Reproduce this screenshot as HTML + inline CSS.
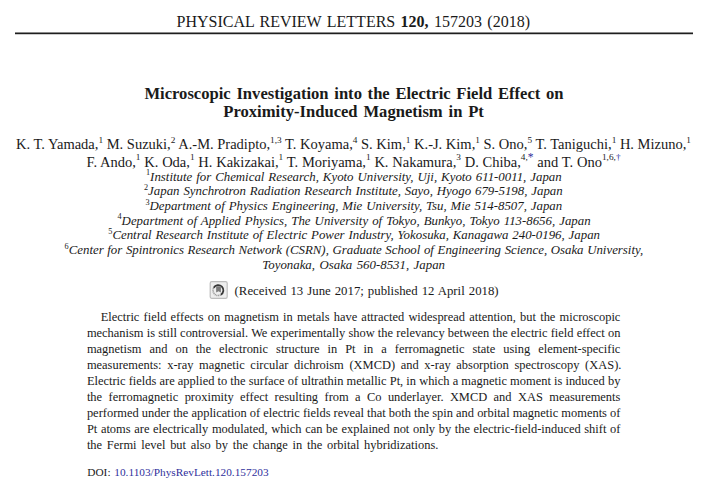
<!DOCTYPE html>
<html><head><meta charset="utf-8">
<style>
html,body{margin:0;padding:0;background:#fff;}
body{width:712px;height:490px;position:relative;overflow:hidden;font-family:"Liberation Serif",serif;color:#1a1a1a;}
.j{position:absolute;white-space:nowrap;line-height:1;text-align:justify;text-align-last:justify;}
sup{font-size:64%;vertical-align:0;position:relative;top:-0.65em;}
.rule{position:absolute;left:15px;width:678px;height:1px;}
.blue{color:#2f2f9c;}
.j[style*="italic"] sup{font-style:normal;}
</style></head><body>
<div class="rule" style="top:32px;background:#8a8a8a;"></div>
<div class="rule" style="top:33px;background:#1e1e1e;"></div>
<div class="rule" style="top:34px;background:#cccccc;"></div>
<svg id="icon" style="position:absolute;left:208px;top:280px;" width="22" height="21" viewBox="0 0 22 21">
<rect x="2.2" y="1.6" width="17" height="16.8" rx="1.6" fill="#eeeeee" stroke="#bdbdbd" stroke-width="1.2"/>
<path d="M5.7 7.7 A5.2 5.2 0 1 1 12.8 14.8" fill="none" stroke="#383838" stroke-width="1.8"/>
<path d="M12.8 14.8 A5.2 5.2 0 0 1 5.7 7.7" fill="none" stroke="#9a9a9a" stroke-width="1.6" stroke-dasharray="1.1 0.6"/>
<path d="M8.15 6.2 H12.9 V12.6 L10.5 11.3 L8.15 12.6 Z" fill="#7a7a7a"/>
</svg>

<div class="j" id="hdr" style="left:176.50px;top:13.51px;width:353.50px;font-size:16px">PHYSICAL REVIEW LETTERS <b>120,</b> 157203 (2018)</div>
<div class="j" id="t1" style="left:144.40px;top:85.61px;width:419.20px;font-size:16.6px;font-weight:bold">Microscopic Investigation into the Electric Field Effect on</div>
<div class="j" id="t2" style="left:223.30px;top:103.81px;width:260.60px;font-size:16.6px;font-weight:bold">Proximity-Induced Magnetism in Pt</div>
<div class="j" id="a1" style="left:16.00px;top:136.71px;width:673.70px;font-size:14.5px">K. T. Yamada,<sup>1</sup> M. Suzuki,<sup>2</sup> A.-M. Pradipto,<sup>1,3</sup> T. Koyama,<sup>4</sup> S. Kim,<sup>1</sup> K.-J. Kim,<sup>1</sup> S. Ono,<sup>5</sup> T. Taniguchi,<sup>1</sup> H. Mizuno,<sup>1</sup></div>
<div class="j" id="a2" style="left:86.50px;top:154.50px;width:534.10px;font-size:14.5px">F. Ando,<sup>1</sup> K. Oda,<sup>1</sup> H. Kakizakai,<sup>1</sup> T. Moriyama,<sup>1</sup> K. Nakamura,<sup>3</sup> D. Chiba,<sup>4,<span class="blue" style="font-size:125%;position:relative;top:1px">*</span></sup> and T. Ono<sup>1,6,<span class="blue">&#8224;</span></sup></div>
<div class="j" id="f1" style="left:146.00px;top:170.50px;width:415.70px;font-size:12.85px;font-style:italic"><sup>1</sup>Institute for Chemical Research, Kyoto University, Uji, Kyoto 611-0011, Japan</div>
<div class="j" id="f2" style="left:144.00px;top:185.22px;width:418.70px;font-size:12.85px;font-style:italic"><sup>2</sup>Japan Synchrotron Radiation Research Institute, Sayo, Hyogo 679-5198, Japan</div>
<div class="j" id="f3" style="left:145.40px;top:199.91px;width:416.80px;font-size:12.85px;font-style:italic"><sup>3</sup>Department of Physics Engineering, Mie University, Tsu, Mie 514-8507, Japan</div>
<div class="j" id="f4" style="left:117.50px;top:214.61px;width:473.10px;font-size:12.85px;font-style:italic"><sup>4</sup>Department of Applied Physics, The University of Tokyo, Bunkyo, Tokyo 113-8656, Japan</div>
<div class="j" id="f5" style="left:108.30px;top:229.31px;width:491.70px;font-size:12.85px;font-style:italic"><sup>5</sup>Central Research Institute of Electric Power Industry, Yokosuka, Kanagawa 240-0196, Japan</div>
<div class="j" id="f6" style="left:64.60px;top:244.00px;width:578.60px;font-size:12.85px;font-style:italic"><sup>6</sup>Center for Spintronics Research Network (CSRN), Graduate School of Engineering Science, Osaka University,</div>
<div class="j" id="f7" style="left:262.30px;top:258.72px;width:182.70px;font-size:12.85px;font-style:italic">Toyonaka, Osaka 560-8531, Japan</div>
<div class="j" id="rcv" style="left:234.60px;top:284.71px;width:264.00px;font-size:12.8px">(Received 13 June 2017; published 12 April 2018)</div>
<div class="j" id="b1" style="left:100.70px;top:310.90px;width:519.70px;font-size:12.45px">Electric field effects on magnetism in metals have attracted widespread attention, but the microscopic</div>
<div class="j" id="b2" style="left:86.90px;top:326.89px;width:533.50px;font-size:12.45px">mechanism is still controversial. We experimentally show the relevancy between the electric field effect on</div>
<div class="j" id="b3" style="left:86.90px;top:342.85px;width:533.50px;font-size:12.45px">magnetism and on the electronic structure in Pt in a ferromagnetic state using element-specific</div>
<div class="j" id="b4" style="left:86.90px;top:358.83px;width:534.50px;font-size:12.45px">measurements: x-ray magnetic circular dichroism (XMCD) and x-ray absorption spectroscopy (XAS).</div>
<div class="j" id="b5" style="left:86.90px;top:374.81px;width:533.50px;font-size:12.45px">Electric fields are applied to the surface of ultrathin metallic Pt, in which a magnetic moment is induced by</div>
<div class="j" id="b6" style="left:86.90px;top:390.78px;width:533.50px;font-size:12.45px">the ferromagnetic proximity effect resulting from a Co underlayer. XMCD and XAS measurements</div>
<div class="j" id="b7" style="left:86.90px;top:406.76px;width:533.50px;font-size:12.45px;word-spacing:-0.3px">performed under the application of electric fields reveal that both the spin and orbital magnetic moments of</div>
<div class="j" id="b8" style="left:86.90px;top:422.73px;width:533.50px;font-size:12.45px">Pt atoms are electrically modulated, which can be explained not only by the electric-field-induced shift of</div>
<div class="j" id="b9" style="left:86.90px;top:438.71px;width:351.50px;font-size:12.45px">the Fermi level but also by the change in the orbital hybridizations.</div>
<div class="j" id="doi" style="left:87.30px;top:466.50px;width:181.30px;font-size:11.3px">DOI: <span class="blue">10.1103/PhysRevLett.120.157203</span></div>
</body></html>
